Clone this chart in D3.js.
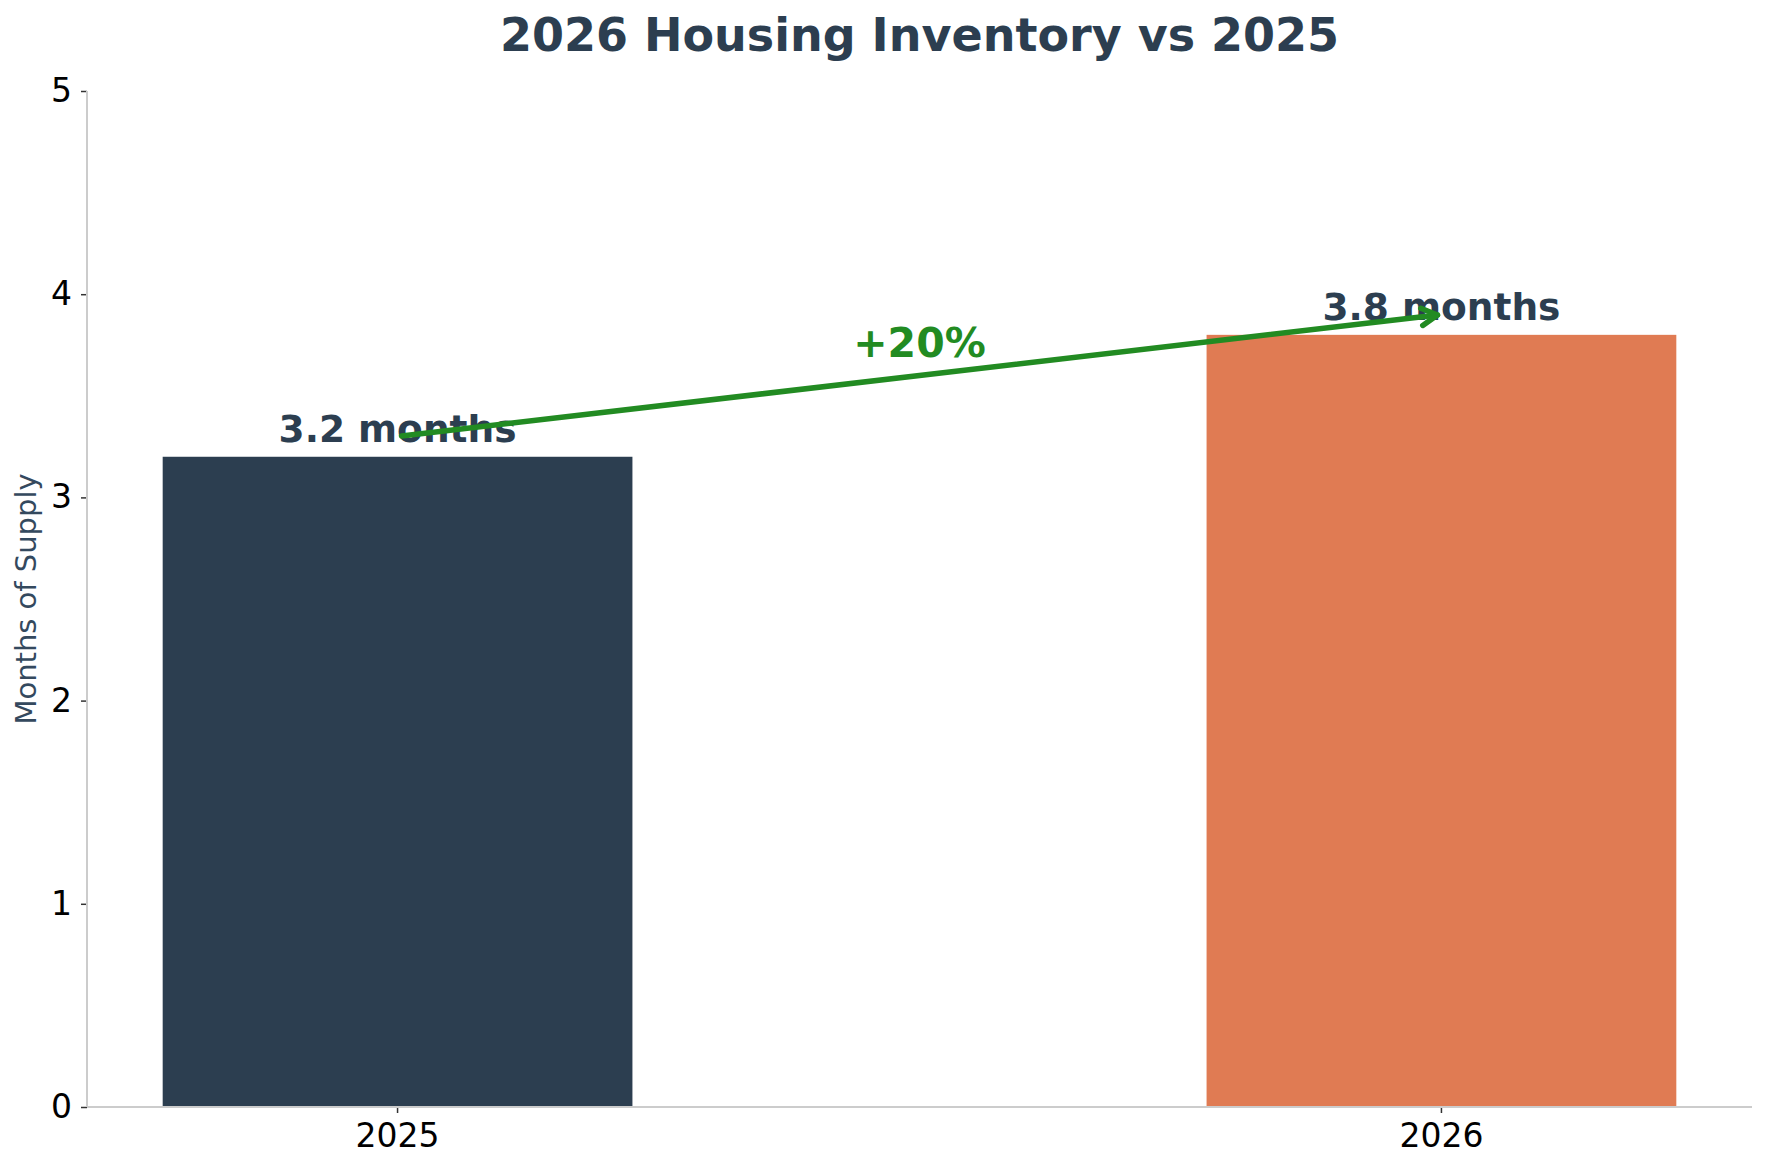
<!DOCTYPE html>
<html>
<head>
<meta charset="utf-8">
<script src="https://cdn.jsdelivr.net/npm/d3@7"></script>
<style>
  body { margin:0; background:#fff; }
  svg { display:block; font-family:"DejaVu Sans", sans-serif; }
</style>
</head>
<body>
<svg id="chart" width="1766" height="1170"></svg>
<script>
// --- data ---
const years = ['2025', '2026'];
const supply = [3.2, 3.8];
const barColors = ['#2c3e50', '#e07b53'];
const yTicks = [0, 1, 2, 3, 4, 5];
const arrowVals = [3.3, 3.9];     // arrow from first bar to second bar
const changeLabel = '+20%';
const changeLabelY = 3.69;

// --- layout ---
const W = 1766, H = 1170;
const plotL = 87, plotR = 1752, plotT = 91, plotB = 1107;

const svg = d3.select('#chart');
svg.append('rect').attr('width', W).attr('height', H).attr('fill', '#fff');

const x = d3.scaleBand().domain(years).range([plotL, plotR])
  .paddingInner(0.55).paddingOuter(0.0725);
const y = d3.scaleLinear().domain([0, 5]).range([plotB, plotT]);
const cx = d => x(d) + x.bandwidth()/2;

// bars
svg.append('g').selectAll('rect').data(years).join('rect')
  .attr('x', d => x(d))
  .attr('y', (d,i) => y(supply[i]))
  .attr('width', x.bandwidth())
  .attr('height', (d,i) => y(0) - y(supply[i]))
  .attr('fill', (d,i) => barColors[i]);

// axes
const yAxis = svg.append('g').attr('transform', `translate(${plotL},0)`)
  .call(d3.axisLeft(y).tickValues(yTicks).tickSize(6).tickPadding(9).tickFormat(d3.format('d')));
const xAxis = svg.append('g').attr('transform', `translate(0,${plotB})`)
  .call(d3.axisBottom(x).tickSize(6).tickPadding(8));

[yAxis, xAxis].forEach(a => {
  a.select('.domain').remove();
  a.selectAll('.tick line').attr('stroke', '#333').attr('stroke-width', 1.5);
  a.selectAll('.tick text').attr('fill', '#000').attr('font-size', 33)
    .attr('font-family', '"DejaVu Sans", sans-serif');
});
xAxis.selectAll('.tick text').attr('dy', '0.8em');

// spines (left + bottom only)
svg.append('line').attr('x1', plotL).attr('x2', plotL).attr('y1', plotT).attr('y2', plotB)
  .attr('stroke', '#cccccc').attr('stroke-width', 2);
svg.append('line').attr('x1', plotL).attr('x2', plotR).attr('y1', plotB).attr('y2', plotB)
  .attr('stroke', '#cccccc').attr('stroke-width', 2);

// title + y label
svg.append('text').attr('x', (plotL + plotR)/2).attr('y', 51)
  .attr('text-anchor', 'middle').attr('font-size', 46).attr('font-weight', 'bold')
  .attr('fill', '#2c3e50').text('2026 Housing Inventory vs 2025');

svg.append('text')
  .attr('transform', `translate(36,${(plotT + plotB)/2}) rotate(-90)`)
  .attr('text-anchor', 'middle').attr('font-size', 29)
  .attr('fill', '#34495e').text('Months of Supply');

// value labels
svg.append('g').selectAll('text').data(years).join('text')
  .attr('x', d => cx(d))
  .attr('y', (d,i) => y(supply[i]) - 14.5)
  .attr('text-anchor', 'middle').attr('font-size', 37.5).attr('font-weight', 'bold')
  .attr('fill', '#2c3e50')
  .text((d,i) => `${supply[i]} months`);

// change arrow
const x0 = cx(years[0]), y0 = y(arrowVals[0]);
const x1 = cx(years[1]), y1 = y(arrowVals[1]);
const ang = Math.atan2(y1 - y0, x1 - x0);
const shrink = 4;
const sx = x0 + shrink*Math.cos(ang), sy = y0 + shrink*Math.sin(ang);
const tx = x1 - shrink*Math.cos(ang), ty = y1 - shrink*Math.sin(ang);
const head = 18, spread = 0.5;
const arrow = svg.append('g').attr('stroke', '#228b22').attr('stroke-width', 5.5)
  .attr('fill', 'none').attr('stroke-linecap', 'round').attr('stroke-linejoin', 'round');
arrow.append('line').attr('x1', sx).attr('y1', sy).attr('x2', tx).attr('y2', ty);
arrow.append('path').attr('d',
  `M${tx - head*Math.cos(ang - spread)},${ty - head*Math.sin(ang - spread)}` +
  `L${tx},${ty}` +
  `L${tx - head*Math.cos(ang + spread)},${ty - head*Math.sin(ang + spread)}`);

svg.append('text').attr('x', (x0 + x1)/2).attr('y', y(changeLabelY))
  .attr('text-anchor', 'middle').attr('font-size', 41).attr('font-weight', 'bold')
  .attr('fill', '#228b22').text(changeLabel);
</script>
</body>
</html>
